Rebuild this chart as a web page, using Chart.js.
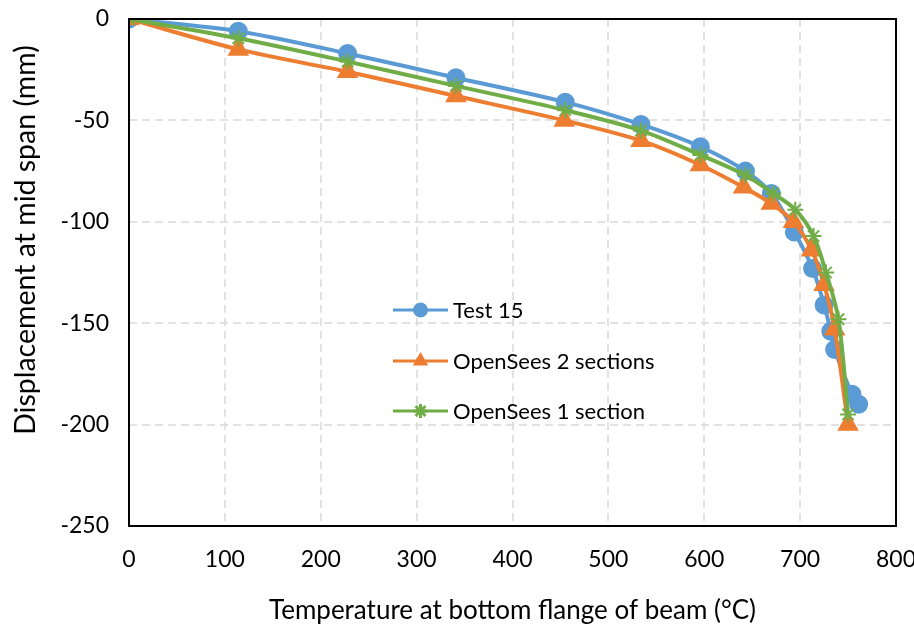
<!DOCTYPE html>
<html>
<head>
<meta charset="utf-8">
<script src="https://cdn.jsdelivr.net/npm/chart.js@4/dist/chart.umd.min.js"></script>
<style>
  body { margin: 0; background: #fff; }
  canvas { display: block; }
</style>
</head>
<body>
<canvas id="dispChart" width="914" height="626"></canvas>
<script>
// Mid-span displacement vs bottom flange temperature

const seriesLabels = ['Test 15', 'OpenSees 2 sections', 'OpenSees 1 section'];
const yTitle = 'Displacement at mid span (mm)';
const xTitle = 'Temperature at bottom flange of beam (°C)';

// Test 15
const testTemp = [0, 114, 228, 341, 455, 534, 596, 643, 670, 694, 713, 725, 732, 736, 754, 761];
const testDisp = [0, -6, -17, -29, -41, -52, -63, -75, -86, -105, -123, -141, -154, -163, -185, -190];

// OpenSees 2 sections
const os2Temp = [0, 114, 228, 341, 454, 534, 596, 641, 670, 693, 712, 725, 736, 750];
const os2Disp = [0, -15, -26, -38, -50, -60, -72, -83, -91, -100, -114, -131, -153, -200];

// OpenSees 1 section
const os1Temp = [0, 114, 228, 341, 455, 534, 596, 643, 672, 695, 714, 727, 740, 750];
const os1Disp = [0, -9.5, -21, -33, -45, -55, -67, -77, -86, -94, -107, -125, -148, -195];

const xTicks = [0, 100, 200, 300, 400, 500, 600, 700, 800];
const yTicks = [0, -50, -100, -150, -200, -250];

const FONT = 'Lato, "Liberation Sans", sans-serif';

function toPoints(xs, ys) {
    return xs.map((x, i) => ({ x: x, y: ys[i] }));
}

// Dashed grey grid, drawn under the series
const dashedGrid = {
    id: 'dashedGrid',
    beforeDatasetsDraw(chart) {
        const { ctx, chartArea: a, scales } = chart;
        ctx.save();
        ctx.strokeStyle = '#d9d9d9';
        ctx.lineWidth = 1.5;
        ctx.setLineDash([8, 5]);
        xTicks.forEach(v => {
            const px = Math.round(scales.x.getPixelForValue(v));
            ctx.beginPath();
            ctx.moveTo(px, a.top);
            ctx.lineTo(px, a.bottom);
            ctx.stroke();
        });
        yTicks.forEach(v => {
            const py = Math.round(scales.y.getPixelForValue(v));
            ctx.beginPath();
            ctx.moveTo(a.left, py);
            ctx.lineTo(a.right, py);
            ctx.stroke();
        });
        ctx.restore();
    }
};

// Black frame round the plot area, plus the y title (Excel put it a bit above centre)
const framePlugin = {
    id: 'frame',
    afterDraw(chart) {
        const { ctx, chartArea: a } = chart;
        ctx.save();
        ctx.strokeStyle = '#000';
        ctx.lineWidth = 2;
        ctx.strokeRect(a.left, a.top, a.right - a.left, a.bottom - a.top);

        ctx.translate(26, 240);
        ctx.rotate(-Math.PI / 2);
        ctx.fillStyle = '#000';
        ctx.font = '28.5px ' + FONT;
        ctx.textAlign = 'center';
        ctx.textBaseline = 'middle';
        ctx.fillText(yTitle, 0, 0);
        ctx.restore();
    }
};

// Legend sitting inside the plot, like the Excel one
const innerLegend = {
    id: 'innerLegend',
    afterDraw(chart) {
        const ctx = chart.ctx;
        const x0 = 393, x1 = 448, textX = 453;
        const rows = [310, 361, 411];
        ctx.save();
        chart.data.datasets.forEach((ds, i) => {
            const y = rows[i];
            ctx.strokeStyle = ds.borderColor;
            ctx.lineWidth = 3;
            ctx.beginPath();
            ctx.moveTo(x0, y);
            ctx.lineTo(x1, y);
            ctx.stroke();
            ctx.fillStyle = ds.pointBackgroundColor;
            ctx.strokeStyle = ds.pointBorderColor;
            Chart.helpers.drawPoint(ctx, {
                pointStyle: ds.pointStyle,
                radius: ds.pointStyle === 'star' ? 7 : 6,
                borderWidth: ds.pointStyle === 'star' ? 2 : 1,
                rotation: 0
            }, (x0 + x1) / 2, y);
            ctx.fillStyle = '#000';
            ctx.font = '22px ' + FONT;
            ctx.textBaseline = 'middle';
            ctx.textAlign = 'left';
            ctx.fillText(ds.label, textX, y + 1);
        });
        ctx.restore();
    }
};

new Chart(document.getElementById('dispChart'), {
    type: 'scatter',
    data: {
        datasets: [
            {
                label: seriesLabels[0],
                data: toPoints(testTemp, testDisp),
                borderColor: '#5b9bd5',
                backgroundColor: '#5b9bd5',
                pointBackgroundColor: '#5b9bd5',
                pointBorderColor: '#5b9bd5',
                pointStyle: 'circle',
                pointRadius: 7.5,
                borderWidth: 4,
                showLine: true,
                tension: 0.3,
                order: 2
            },
            {
                label: seriesLabels[1],
                data: toPoints(os2Temp, os2Disp),
                borderColor: '#ed7d31',
                backgroundColor: '#ed7d31',
                pointBackgroundColor: '#ed7d31',
                pointBorderColor: '#ed7d31',
                pointStyle: 'triangle',
                pointRadius: 8.5,
                borderWidth: 4,
                showLine: true,
                tension: 0.3,
                order: 1
            },
            {
                label: seriesLabels[2],
                data: toPoints(os1Temp, os1Disp),
                borderColor: '#70ad47',
                backgroundColor: '#70ad47',
                pointBackgroundColor: '#70ad47',
                pointBorderColor: '#70ad47',
                pointStyle: 'star',
                pointRadius: 8,
                pointBorderWidth: 2,
                borderWidth: 4,
                showLine: true,
                tension: 0.3,
                order: 0
            }
        ]
    },
    options: {
        responsive: false,
        animation: false,
        layout: {
            padding: { top: 19, right: 18, left: 0, bottom: 0 }
        },
        plugins: {
            legend: { display: false },
            tooltip: { enabled: false }
        },
        scales: {
            x: {
                type: 'linear',
                min: 0,
                max: 800,
                afterFit: (scale) => {
                    scale.height = 100;
                    scale.paddingLeft = 0;
                    scale.paddingRight = 0;
                },
                afterBuildTicks: (scale) => { scale.ticks = xTicks.map(v => ({ value: v })); },
                grid: { display: false, drawTicks: false },
                border: { display: false },
                ticks: {
                    color: '#000',
                    padding: 20,
                    font: { family: FONT, size: 23 }
                },
                title: {
                    display: true,
                    text: xTitle,
                    color: '#000',
                    padding: { top: 19, bottom: 0 },
                    font: { family: FONT, size: 26 }
                }
            },
            y: {
                type: 'linear',
                min: -250,
                max: 0,
                afterFit: (scale) => {
                    scale.width = 129;
                    scale.paddingTop = 0;
                    scale.paddingBottom = 0;
                },
                afterBuildTicks: (scale) => { scale.ticks = yTicks.map(v => ({ value: v })); },
                grid: { display: false, drawTicks: false },
                border: { display: false },
                ticks: {
                    color: '#000',
                    padding: 20,
                    font: { family: FONT, size: 23 }
                },
                title: { display: false }
            }
        }
    },
    plugins: [dashedGrid, framePlugin, innerLegend]
});
</script>
</body>
</html>
